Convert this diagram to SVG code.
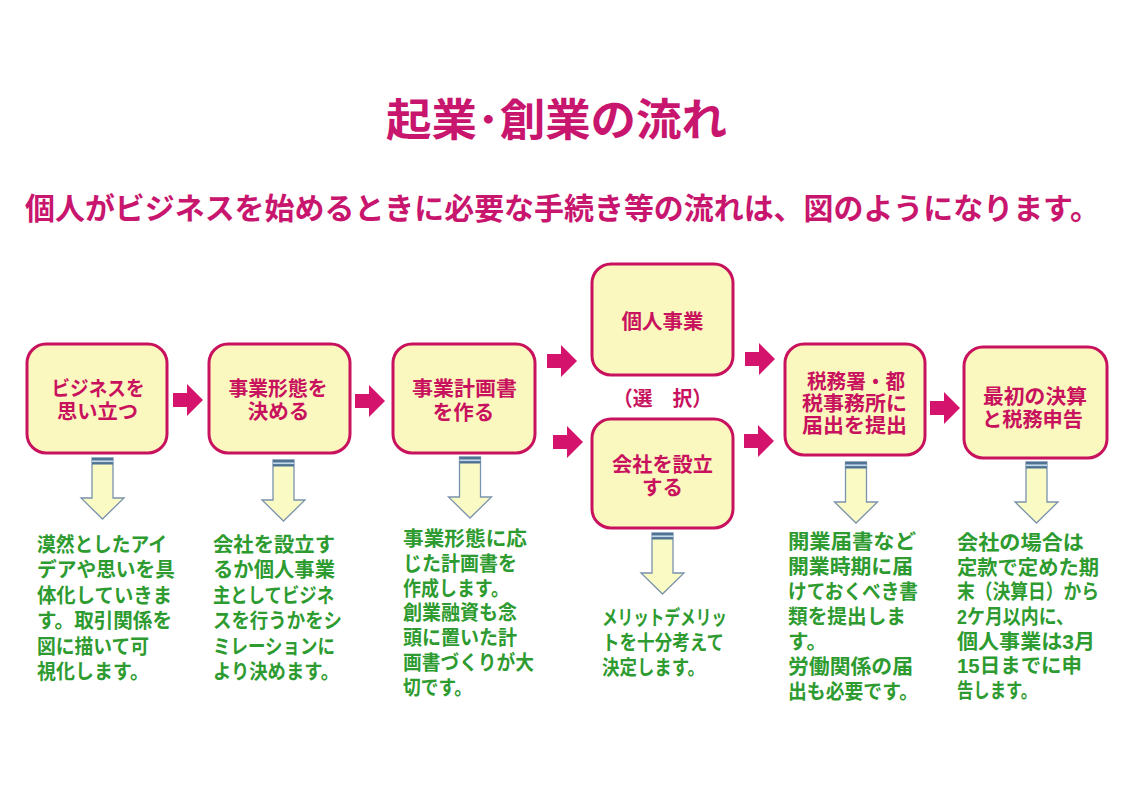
<svg xmlns="http://www.w3.org/2000/svg" xmlns:xlink="http://www.w3.org/1999/xlink" width="1122" height="793" viewBox="0 0 1122 793">
<style>
.box{fill:#fbf8bf;stroke:#c8125e;stroke-width:3}
.lbl{font-family:"Liberation Sans","Noto Sans CJK JP",sans-serif;font-weight:bold;font-size:20.5px;fill:#c8125e;text-anchor:middle}
.note{font-family:"Liberation Sans","Noto Sans CJK JP",sans-serif;font-weight:bold;font-size:20.5px;fill:#2e9b30}
.ttl{font-family:"Liberation Sans","Noto Sans CJK JP",sans-serif;font-weight:bold;fill:#c8156e}
.rarrow{fill:#d4136d}
.dshaft{fill:#fafac4;stroke:#7a93ad;stroke-width:1.3}
</style>
<defs>
<path id="ra" class="rarrow" d="M0,-7 H14 V-16 L30,0 L14,16 V7 H0 Z"/>
<g id="da">
<path class="dshaft" d="M-10.5,0 H10.5 V40 H21.5 L0,61 L-21.5,40 H-10.5 Z"/>
<rect x="-10.5" y="0" width="21" height="6.5" fill="#4f7393"/>
<rect x="-10.5" y="2.4" width="21" height="1.7" fill="#c3d8ea"/>
</g>
</defs>
<rect width="1122" height="793" fill="#ffffff"/>

<g id="title">
<text class="ttl" x="386" y="136" font-size="44" textLength="341" lengthAdjust="spacingAndGlyphs">起業･創業の流れ</text>
<text class="ttl" x="25" y="219" font-size="29.8" textLength="1075" lengthAdjust="spacingAndGlyphs">個人がビジネスを始めるときに必要な手続き等の流れは、図のようになります。</text>
</g>

<g id="node-idea">
<rect class="box" x="27" y="344" width="140" height="109" rx="19"/>
<text class="lbl" x="98" y="396" textLength="93" lengthAdjust="spacingAndGlyphs">ビジネスを</text>
<text class="lbl" x="97.5" y="419" textLength="81" lengthAdjust="spacingAndGlyphs">思い立つ</text>
</g>
<g id="node-form">
<rect class="box" x="209" y="344" width="141" height="109" rx="19"/>
<text class="lbl" x="278" y="396" textLength="99" lengthAdjust="spacingAndGlyphs">事業形態を</text>
<text class="lbl" x="278.5" y="419">決める</text>
</g>
<g id="node-plan">
<rect class="box" x="393" y="344" width="142" height="109" rx="19"/>
<text class="lbl" x="464.5" y="396" textLength="105" lengthAdjust="spacingAndGlyphs">事業計画書</text>
<text class="lbl" x="463.5" y="420">を作る</text>
</g>
<g id="node-kojin">
<rect class="box" x="592" y="264" width="141" height="111" rx="19"/>
<text class="lbl" x="662.5" y="329">個人事業</text>
</g>
<g id="node-choice">
<text class="lbl" x="662.5" y="406" font-size="23" textLength="99" lengthAdjust="spacingAndGlyphs">（選　択）</text>
</g>
<g id="node-kaisha">
<rect class="box" x="592" y="419" width="141" height="109" rx="19"/>
<text class="lbl" x="662.5" y="472" textLength="101" lengthAdjust="spacingAndGlyphs">会社を設立</text>
<text class="lbl" x="662.5" y="495">する</text>
</g>
<g id="node-todoke">
<rect class="box" x="785" y="344" width="140" height="111" rx="19"/>
<text class="lbl" x="856" y="389" textLength="98" lengthAdjust="spacingAndGlyphs">税務署・都</text>
<text class="lbl" x="854.5" y="411" textLength="105" lengthAdjust="spacingAndGlyphs">税事務所に</text>
<text class="lbl" x="854.5" y="433" textLength="105" lengthAdjust="spacingAndGlyphs">届出を提出</text>
</g>
<g id="node-kessan">
<rect class="box" x="964" y="347" width="143" height="111" rx="19"/>
<text class="lbl" x="1035" y="404" textLength="104" lengthAdjust="spacingAndGlyphs">最初の決算</text>
<text class="lbl" x="1032.5" y="427" textLength="101" lengthAdjust="spacingAndGlyphs">と税務申告</text>
</g>

<g id="connectors">
<use xlink:href="#ra" x="173" y="400"/>
<use xlink:href="#ra" x="355" y="401"/>
<use xlink:href="#ra" x="547" y="361"/>
<use xlink:href="#ra" x="553" y="442"/>
<use xlink:href="#ra" x="745" y="359"/>
<use xlink:href="#ra" x="744" y="441"/>
<use xlink:href="#ra" x="930" y="408"/>
<use xlink:href="#da" x="102.5" y="458"/>
<use xlink:href="#da" x="283.5" y="460"/>
<use xlink:href="#da" x="470" y="457"/>
<use xlink:href="#da" x="662.5" y="533"/>
<use xlink:href="#da" x="856" y="462"/>
<use xlink:href="#da" x="1036.5" y="462"/>
</g>

<g id="note-idea">
<text class="note" x="37" y="551.5" textLength="130" lengthAdjust="spacingAndGlyphs">漠然としたアイ</text>
<text class="note" x="37" y="577" textLength="138" lengthAdjust="spacingAndGlyphs">デアや思いを具</text>
<text class="note" x="37" y="602.5" textLength="135" lengthAdjust="spacingAndGlyphs">体化していきま</text>
<text class="note" x="37" y="628" textLength="135" lengthAdjust="spacingAndGlyphs">す。取引関係を</text>
<text class="note" x="37" y="653.5" textLength="112" lengthAdjust="spacingAndGlyphs">図に描いて可</text>
<text class="note" x="37" y="679" textLength="112" lengthAdjust="spacingAndGlyphs">視化します。</text>
</g>
<g id="note-form">
<text class="note" x="213" y="551.5" textLength="122" lengthAdjust="spacingAndGlyphs">会社を設立す</text>
<text class="note" x="213" y="577" textLength="122" lengthAdjust="spacingAndGlyphs">るか個人事業</text>
<text class="note" x="213" y="602.5" textLength="121" lengthAdjust="spacingAndGlyphs">主としてビジネ</text>
<text class="note" x="213" y="628" textLength="129" lengthAdjust="spacingAndGlyphs">スを行うかをシ</text>
<text class="note" x="213" y="653.5" textLength="122" lengthAdjust="spacingAndGlyphs">ミレーションに</text>
<text class="note" x="213" y="679" textLength="126" lengthAdjust="spacingAndGlyphs">より決めます。</text>
</g>
<g id="note-plan">
<text class="note" x="403" y="545.5" textLength="124" lengthAdjust="spacingAndGlyphs">事業形態に応</text>
<text class="note" x="403" y="570.5" textLength="114" lengthAdjust="spacingAndGlyphs">じた計画書を</text>
<text class="note" x="403" y="595.5" textLength="106" lengthAdjust="spacingAndGlyphs">作成します。</text>
<text class="note" x="403" y="619.5" textLength="114" lengthAdjust="spacingAndGlyphs">創業融資も念</text>
<text class="note" x="403" y="644.5" textLength="114" lengthAdjust="spacingAndGlyphs">頭に置いた計</text>
<text class="note" x="403" y="669.5" textLength="131" lengthAdjust="spacingAndGlyphs">画書づくりが大</text>
<text class="note" x="403" y="694.5" textLength="69" lengthAdjust="spacingAndGlyphs">切です。</text>
</g>
<g id="note-choice">
<text class="note" x="602" y="624.5" textLength="125" lengthAdjust="spacingAndGlyphs">メリットデメリッ</text>
<text class="note" x="602" y="649.5" textLength="122" lengthAdjust="spacingAndGlyphs">トを十分考えて</text>
<text class="note" x="602" y="674.5" textLength="103" lengthAdjust="spacingAndGlyphs">決定します。</text>
</g>
<g id="note-todoke">
<text class="note" x="788" y="548.5" textLength="128" lengthAdjust="spacingAndGlyphs">開業届書など</text>
<text class="note" x="788" y="573.5" textLength="125" lengthAdjust="spacingAndGlyphs">開業時期に届</text>
<text class="note" x="788" y="598.5" textLength="130" lengthAdjust="spacingAndGlyphs">けておくべき書</text>
<text class="note" x="788" y="623.5" textLength="118" lengthAdjust="spacingAndGlyphs">類を提出しま</text>
<text class="note" x="788" y="648.5">す。</text>
<text class="note" x="788" y="673.5" textLength="125" lengthAdjust="spacingAndGlyphs">労働関係の届</text>
<text class="note" x="788" y="698.5" textLength="130" lengthAdjust="spacingAndGlyphs">出も必要です。</text>
</g>
<g id="note-kessan">
<text class="note" x="957" y="549.5" textLength="127" lengthAdjust="spacingAndGlyphs">会社の場合は</text>
<text class="note" x="957" y="574.5" textLength="142" lengthAdjust="spacingAndGlyphs">定款で定めた期</text>
<text class="note" x="957" y="598.5" textLength="142" lengthAdjust="spacingAndGlyphs">末（決算日）から</text>
<text class="note" x="957" y="623.5" textLength="117" lengthAdjust="spacingAndGlyphs">2ケ月以内に、</text>
<text class="note" x="957" y="648.5" textLength="138" lengthAdjust="spacingAndGlyphs">個人事業は3月</text>
<text class="note" x="957" y="672.5" textLength="125" lengthAdjust="spacingAndGlyphs">15日までに申</text>
<text class="note" x="957" y="697.5" textLength="80" lengthAdjust="spacingAndGlyphs">告します。</text>
</g>
</svg>
